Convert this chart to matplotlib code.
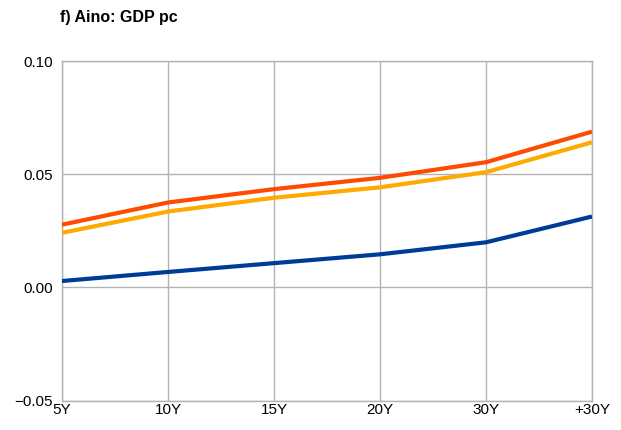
import matplotlib
matplotlib.use("Agg")
import matplotlib.pyplot as plt

plt.rcParams['font.family'] = ['Liberation Sans', 'DejaVu Sans']

categories = ["5Y", "10Y", "15Y", "20Y", "30Y", "+30Y"]
red_values = [0.0277, 0.0375, 0.0434, 0.0484, 0.0553, 0.0688]
orange_values = [0.0241, 0.0335, 0.0396, 0.0442, 0.0509, 0.0641]
blue_values = [0.0028, 0.0068, 0.0107, 0.0146, 0.0199, 0.0313]

y_ticks = [-0.05, 0.00, 0.05, 0.10]
y_tick_labels = ["\u22120.05", "0.00", "0.05", "0.10"]

fig = plt.figure(figsize=(6.21, 4.30), dpi=100)
ax = fig.add_axes([0.0998, 0.0686, 0.8535, 0.7894])

x = list(range(len(categories)))
ax.plot(x, blue_values, color='#003c96', linewidth=3.0, solid_capstyle='butt', zorder=3)
ax.plot(x, orange_values, color='#ffaa00', linewidth=3.0, solid_capstyle='butt', zorder=3)
ax.plot(x, red_values, color='#ff4b00', linewidth=3.0, solid_capstyle='butt', zorder=3)

ax.set_xlim(0, len(categories) - 1)
ax.set_ylim(-0.05, 0.10)
ax.set_xticks(x)
ax.set_xticklabels(categories)
ax.set_yticks(y_ticks)
ax.set_yticklabels(y_tick_labels)

ax.grid(True, color='#b3b3b3', linewidth=1.0)
ax.set_axisbelow(True)
for side in ['left', 'right', 'top', 'bottom']:
    ax.spines[side].set_color('#b3b3b3')
    ax.spines[side].set_linewidth(1.0)
ax.tick_params(axis='both', length=0, labelsize=11, colors='black')
ax.tick_params(axis='y', pad=6.5)
ax.tick_params(axis='x', pad=1.5)

fig.text(0.097, 0.96, "f) Aino: GDP pc", fontsize=11.5, fontweight='bold', va='center', ha='left')

fig.savefig("out.png", dpi=100)
